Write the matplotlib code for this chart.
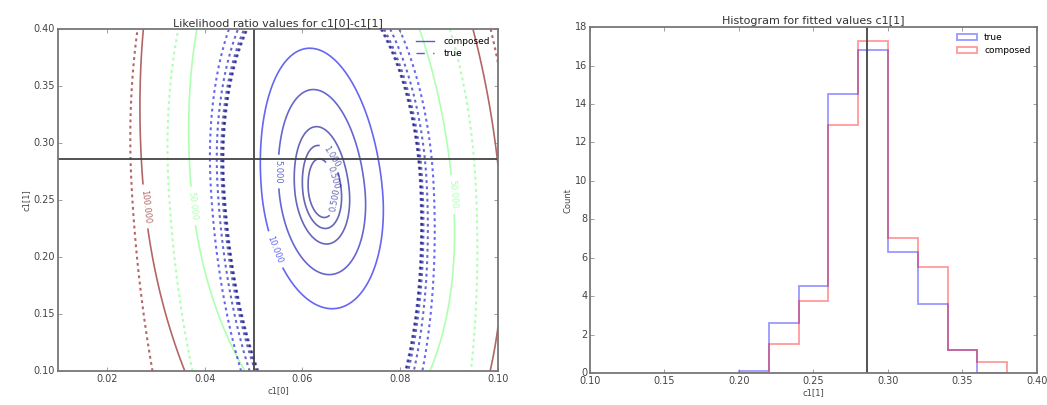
import numpy as np
import matplotlib
matplotlib.use("Agg")
import matplotlib.pyplot as plt

# histogram of fitted c1[1] values (normalised counts per bin)
bin_edges = [0.20, 0.22, 0.24, 0.26, 0.28, 0.30, 0.32, 0.34, 0.36, 0.38]
true_counts = [0.1, 2.6, 4.55, 14.5, 16.8, 6.3, 3.6, 1.2, 0.0]
composed_counts = [0.0, 1.5, 3.75, 12.9, 17.3, 7.05, 5.5, 1.2, 0.55]

# true parameter values (cross-hair lines)
c1_0_true = 0.05
c1_1_true = 0.286

# likelihood ratio contour levels
levels = [0.5, 1.0, 2.0, 5.0, 10.0, 50.0, 100.0]

# shape of the two likelihood ratio surfaces
# (centre x, centre y, width x, width y above/below, tilt, quartic term, offset)
comp_surface = dict(x0=0.0640, y0=0.258, sx=0.00395, sy_up=0.040, sy_dn=0.033,
                    k=-0.02, b=0.002, off=0.0)
true_surface = dict(x0=0.0640, y0=0.265, sx=0.0037, sy_up=0.034, sy_dn=0.046,
                    k=-0.012, b=0.00156, off=30.2)

# where the contour labels sit
label_spots = [(0.0555, 0.275), (0.0535, 0.205), (0.0665, 0.27), (0.0672, 0.25),
               (0.0668, 0.29), (0.0915, 0.255), (0.038, 0.245), (0.0292, 0.245)]


def lr_surface(X, Y, p):
  dx = (X - p["x0"] - p["k"] * (Y - p["y0"])) / p["sx"]
  sy = np.where(Y > p["y0"], p["sy_up"], p["sy_dn"])
  dy = (Y - p["y0"]) / sy
  r2 = dx ** 2 + dy ** 2
  return r2 + p["b"] * r2 ** 2 - p["off"]


plt.style.use("classic")
fig = plt.figure(figsize=(10.47, 4.05), dpi=100, facecolor="white")

# ---- left: likelihood ratio contours
ax1 = fig.add_axes([0.0554, 0.084, 0.4203, 0.844])
xs = np.linspace(0.01, 0.10, 300)
ys = np.linspace(0.10, 0.40, 300)
X, Y = np.meshgrid(xs, ys)

Z_comp = lr_surface(X, Y, comp_surface)
Z_true = lr_surface(X, Y, true_surface)

cs1 = ax1.contour(X, Y, Z_comp, levels=levels, cmap="jet", alpha=0.6,
                  linestyles="solid", linewidths=1.2)
cs2 = ax1.contour(X, Y, Z_true, levels=levels, cmap="jet", alpha=0.6,
                  linestyles="dashed", linewidths=1.5)
cs2.set_dashes([(0, (2.0, 2.5))])
ax1.clabel(cs1, fmt="%.3f", fontsize=6, inline=True, manual=label_spots)

ax1.axvline(c1_0_true, color="#444444", lw=1.3)
ax1.axhline(c1_1_true, color="#444444", lw=1.3)

ax1.plot([], [], color="#5a5acc", ls="-", label="composed")
ax1.plot([], [], color="#5a5acc", ls="--", label="true")
ax1.legend(loc="upper right", frameon=False, fontsize=6.5, handlelength=2.5,
           borderaxespad=0.5, labelspacing=0.3)

ax1.set_xlim(0.01, 0.10)
ax1.set_ylim(0.10, 0.40)
ax1.set_xticks([0.02, 0.04, 0.06, 0.08, 0.10])
ax1.set_yticks([0.10, 0.15, 0.20, 0.25, 0.30, 0.35, 0.40])
ax1.set_title("Likelihood ratio values for c1[0]-c1[1]", fontsize=8, pad=2)
ax1.set_xlabel("c1[0]", fontsize=6, labelpad=2)
ax1.set_ylabel("c1[1]", fontsize=6, labelpad=2)

# ---- right: histogram
ax2 = fig.add_axes([0.5635, 0.079, 0.4269, 0.854])
ax2.hist(bin_edges[:-1], bins=bin_edges, weights=true_counts, histtype="step",
         color="blue", alpha=0.4, lw=1.3, label="true")
ax2.hist(bin_edges[:-1], bins=bin_edges, weights=composed_counts, histtype="step",
         color="red", alpha=0.4, lw=1.3, label="composed")
ax2.axvline(c1_1_true, color="#444444", lw=1.3)
ax2.legend(loc="upper right", frameon=False, fontsize=6.5, handlelength=2.2,
           borderaxespad=0.3, labelspacing=0.4)

ax2.set_xlim(0.10, 0.40)
ax2.set_ylim(0, 18)
ax2.set_xticks([0.10, 0.15, 0.20, 0.25, 0.30, 0.35, 0.40])
ax2.set_xticklabels(["0.10", "0.15", "0.20", "0.25", "0.30", "0.35", "0.40"])
ax2.set_yticks(range(0, 19, 2))
ax2.set_title("Histogram for fitted values c1[1]", fontsize=8, pad=2)
ax2.set_xlabel("c1[1]", fontsize=6, labelpad=2)
ax2.set_ylabel("Count", fontsize=6, labelpad=2)

for ax in (ax1, ax2):
  ax.tick_params(labelsize=7, length=3, pad=2, color="#777777", labelcolor="#444444")
  for sp in ax.spines.values():
    sp.set_color("#777777")
    sp.set_linewidth(1.3)
  ax.title.set_color("#333333")
  ax.xaxis.label.set_color("#444444")
  ax.yaxis.label.set_color("#444444")

fig.savefig("out.png", dpi=100, facecolor="white")
